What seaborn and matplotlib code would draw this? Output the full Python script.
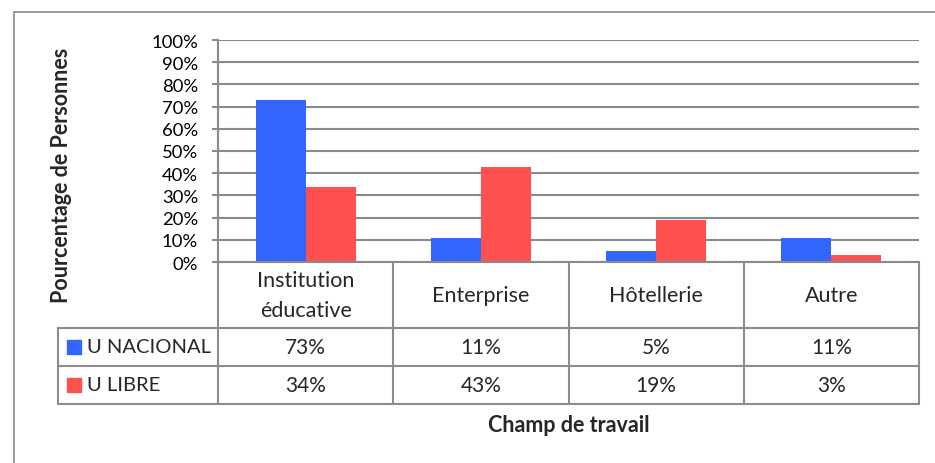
import pandas as pd
import numpy as np
import matplotlib.pyplot as plt
import seaborn as sns
from matplotlib.lines import Line2D
from matplotlib.patches import Rectangle

# chart data
categories = ["Institution\néducative", "Enterprise", "Hôtellerie", "Autre"]
series = ["U NACIONAL", "U LIBRE"]
u_nacional = [73, 11, 5, 11]
u_libre = [34, 43, 19, 3]
colors = ["#3366FF", "#FF5050"]

df = pd.DataFrame({
    "Champ": categories * 2,
    "Serie": [series[0]] * 4 + [series[1]] * 4,
    "Valeur": u_nacional + u_libre,
})

sns.set_theme(style="white")
plt.rcParams["font.family"] = ["Lato", "DejaVu Sans"]

W, H = 935, 464
fig = plt.figure(figsize=(W / 100, H / 100), dpi=100)

# outer frame like the Excel chart area
fig.patches.append(Rectangle((14 / W, -0.1), 1.2, 1 - 13 / H + 0.1,
                             transform=fig.transFigure, fill=False,
                             edgecolor="#8a8a8a", lw=1.2))

left, right, top, bottom = 218, 919, 41, 263
ax = fig.add_axes([left / W, 1 - bottom / H, (right - left) / W, (bottom - top) / H])

sns.barplot(data=df, x="Champ", y="Valeur", hue="Serie", palette=colors,
            width=0.57, saturation=1, ax=ax, legend=False, edgecolor="none")

ax.set_xlim(-0.5, 3.5)
ax.set_ylim(0, 100)
ax.set_yticks(range(0, 101, 10))
ax.set_yticklabels([f"{v}%" for v in range(0, 101, 10)], fontsize=13.3)
ax.set_xticks([])
ax.set_xlabel("")
ax.set_ylabel("")
ax.yaxis.grid(True, color="#8a8a8a", lw=1.5)
ax.set_axisbelow(True)
for s in ["top", "right"]:
    ax.spines[s].set_visible(False)
for s in ["left", "bottom"]:
    ax.spines[s].set_color("#8a8a8a")
    ax.spines[s].set_linewidth(1.5)
ax.tick_params(axis="y", left=True, length=4.3, width=1.5, color="#8a8a8a",
               pad=10, labelcolor="black")

# data table under the plot
ah = bottom - top
unit = (right - left) / 4.0
row_h = -(329 - bottom) / ah
row1 = -(367 - bottom) / ah
row2 = -(405 - bottom) / ah
xl = -0.5 - (left - 58) / unit
tr = ax.get_xaxis_transform()
lc = "#8c8c8c"


def line(xs, ys):
    ax.add_line(Line2D(xs, ys, transform=tr, color=lc, lw=1.5, clip_on=False))


for i in range(len(categories) + 1):
    line([i - 0.5, i - 0.5], [0, row2])
line([xl, xl], [row_h, row2])
for yy in [row_h, row1, row2]:
    line([xl, 3.5], [yy, yy])

for i, cat in enumerate(categories):
    ax.text(i, row_h / 2, cat, transform=tr, ha="center", va="center",
            fontsize=15.5, linespacing=1.68)
    ax.text(i, (row_h + row1) / 2, f"{u_nacional[i]}%", transform=tr,
            ha="center", va="center", fontsize=15)
    ax.text(i, (row1 + row2) / 2, f"{u_libre[i]}%", transform=tr,
            ha="center", va="center", fontsize=15)

for j, (name, col) in enumerate(zip(series, colors)):
    yc = (row_h + row1) / 2 if j == 0 else (row1 + row2) / 2
    sq = 14 / ah
    ax.add_patch(Rectangle((xl + 9 / unit, yc - sq / 2), 14 / unit, sq,
                           transform=tr, color=col, clip_on=False))
    ax.text(xl + 29 / unit, yc, name, transform=tr, ha="left", va="center",
            fontsize=14.5)

ax.text(0.5, -(426 - bottom) / ah, "Champ de travail", transform=ax.transAxes,
        ha="center", va="center", fontsize=15.5, fontweight="bold")
fig.text(61 / W, 1 - 175 / H, "Pourcentage de Personnes", rotation=90,
         ha="center", va="center", fontsize=15.5, fontweight="bold")

fig.savefig("out.png", dpi=100)
